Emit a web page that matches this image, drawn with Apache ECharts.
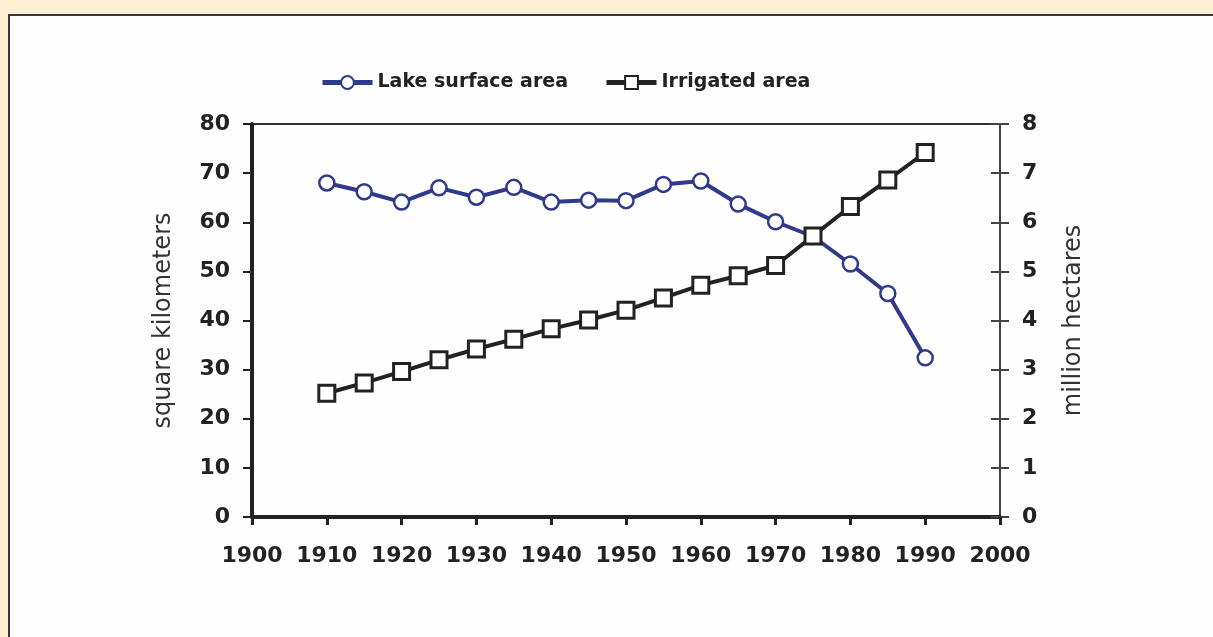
<!DOCTYPE html>
<html>
<head>
<meta charset="utf-8">
<script src="https://cdn.jsdelivr.net/npm/echarts@6/dist/echarts.min.js"></script>
<style>
    html, body { margin: 0; padding: 0; background: #fdefd2; }
    #chart { width: 1213px; height: 637px; }
</style>
</head>
<body>
<div id="chart"></div>
<script>
// values
const years = [1910, 1915, 1920, 1925, 1930, 1935, 1940, 1945, 1950, 1955, 1960, 1965, 1970, 1975, 1980, 1985, 1990]
const lakeArea = [68.0, 66.2, 64.1, 67.0, 65.1, 67.1, 64.1, 64.5, 64.4, 67.7, 68.4, 63.7, 60.1, 57.1, 51.5, 45.5, 32.4]
const irrigatedArea = [2.52, 2.73, 2.96, 3.20, 3.42, 3.62, 3.83, 4.01, 4.21, 4.46, 4.72, 4.91, 5.12, 5.72, 6.32, 6.86, 7.42]
const seriesNames = ['Lake surface area', 'Irrigated area']
const leftAxisName = 'square kilometers'
const rightAxisName = 'million hectares'

const lakeData = years.map((y, i) => [y, lakeArea[i]])
const irrData = years.map((y, i) => [y, irrigatedArea[i]])

const labelFont = {
    color: '#222',
    fontFamily: 'DejaVu Sans',
    fontWeight: 'bold',
    fontSize: 22
}

let option = {
    backgroundColor: '#fdefd2',
    animation: false,
    graphic: [{
        type: 'rect',
        z: -10,
        shape: { x: 9, y: 15, width: 1300, height: 700 },
        style: { fill: '#fefefe', stroke: '#3a3a3a', lineWidth: 2 }
    }],
    legend: {
        left: 315,
        top: 68,
        itemWidth: 50,
        itemHeight: 16,
        itemGap: 36,
        lineStyle: { width: 5 },
        textStyle: {
            color: '#222',
            fontFamily: 'DejaVu Sans',
            fontWeight: 'bold',
            fontSize: 19
        },
        data: seriesNames
    },
    grid: {
        left: 252,
        right: 213,
        top: 124,
        bottom: 120,
        show: true,
        borderColor: '#333',
        borderWidth: 2,
        backgroundColor: 'transparent'
    },
    xAxis: {
        type: 'value',
        min: 1900,
        max: 2000,
        interval: 10,
        axisLine: { lineStyle: { color: '#222', width: 4 } },
        axisTick: { length: 8, lineStyle: { color: '#222', width: 3 } },
        axisLabel: Object.assign({ margin: 28, formatter: v => String(v) }, labelFont),
        splitLine: { show: false }
    },
    yAxis: [{
        type: 'value',
        position: 'left',
        min: 0,
        max: 80,
        interval: 10,
        name: leftAxisName,
        nameLocation: 'middle',
        nameGap: 76,
        nameTextStyle: { color: '#333', fontFamily: 'DejaVu Sans', fontSize: 24 },
        axisLine: { show: true, lineStyle: { color: '#222', width: 4 } },
        axisTick: { show: true, length: 9, lineStyle: { color: '#222', width: 2 } },
        axisLabel: Object.assign({ margin: 22 }, labelFont),
        splitLine: { show: false }
    }, {
        type: 'value',
        position: 'right',
        min: 0,
        max: 8,
        interval: 1,
        name: rightAxisName,
        nameLocation: 'middle',
        nameGap: 62,
        nameTextStyle: { color: '#333', fontFamily: 'DejaVu Sans', fontSize: 24 },
        axisLine: { show: true, lineStyle: { color: '#444', width: 2 } },
        axisTick: { show: true, length: 9, lineStyle: { color: '#444', width: 2 } },
        axisLabel: Object.assign({ margin: 22 }, labelFont),
        splitLine: { show: false }
    }, {
        // inner half of the crossing ticks on the right axis
        type: 'value',
        position: 'right',
        min: 0,
        max: 8,
        interval: 1,
        axisLine: { show: false },
        axisTick: { show: true, inside: true, length: 9, lineStyle: { color: '#444', width: 2 } },
        axisLabel: { show: false },
        splitLine: { show: false }
    }],
    series: [{
        name: seriesNames[0],
        type: 'line',
        yAxisIndex: 0,
        data: lakeData,
        symbol: 'circle',
        symbolSize: 15,
        z: 2,
        lineStyle: { color: '#2f3a8a', width: 4 },
        itemStyle: { color: '#ffffff', borderColor: '#2f3a8a', borderWidth: 2.5 }
    }, {
        name: seriesNames[1],
        type: 'line',
        yAxisIndex: 1,
        data: irrData,
        symbol: 'rect',
        symbolSize: 16,
        z: 3,
        lineStyle: { color: '#222', width: 4 },
        itemStyle: { color: '#ffffff', borderColor: '#222', borderWidth: 3 }
    }]
};

let chart = echarts.init(document.getElementById("chart"))
chart.setOption(option);
</script>
</body>
</html>
